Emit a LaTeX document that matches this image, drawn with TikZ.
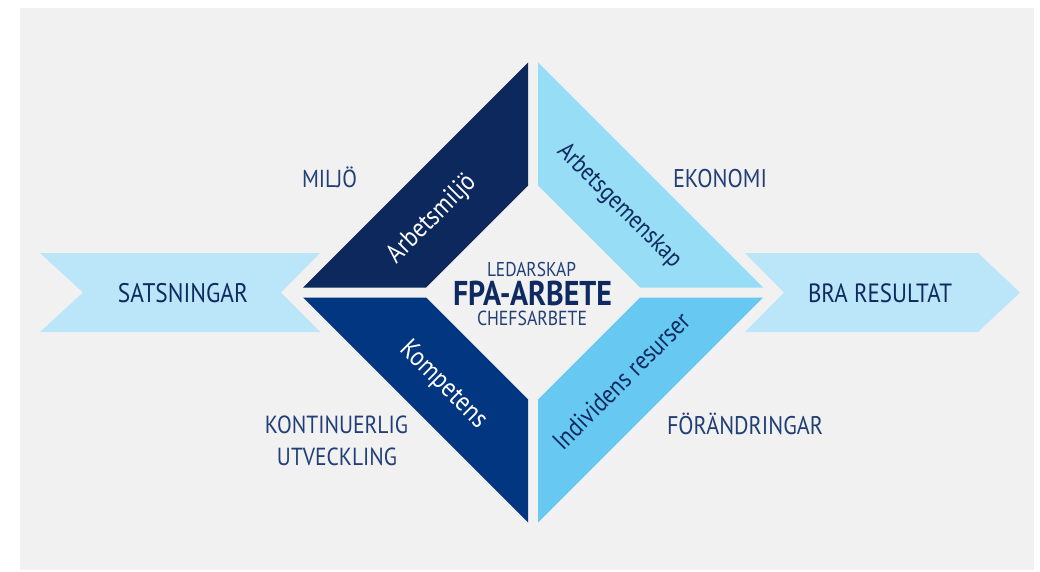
\documentclass[tikz,border=0pt]{standalone}
\usepackage{fontspec}
\setmainfont{PT Sans}
\usepackage{graphicx}

\definecolor{bggrey}{RGB}{241,241,241}
\definecolor{arrowblue}{RGB}{187,229,248}
\definecolor{navyA}{RGB}{12,40,92}
\definecolor{navyB}{RGB}{3,54,128}
\definecolor{skyA}{RGB}{152,221,246}
\definecolor{skyB}{RGB}{103,201,242}
\definecolor{textnavy}{RGB}{34,62,118}
\definecolor{headnavy}{RGB}{14,42,96}

% scale a piece of text to a given width (in pt), then set it a little taller
\newcommand\fitw[2]{\scalebox{1}[1.15]{\resizebox{#1pt}{!}{#2}}}

\begin{document}
\begin{tikzpicture}[x=1pt,y=-1pt,
  lbl/.style={inner sep=0pt, anchor=base, text=textnavy},
  band/.style={inner sep=0pt, anchor=center}]
\useasboundingbox (0,0) rectangle (1040,572);
\fill[white] (0,0) rectangle (1040,572);
\fill[bggrey] (20,8) rectangle (1034,570);

% incoming and outgoing ribbons
\fill[arrowblue] (40,253) -- (320,253) -- (281,292.5) -- (320,332) -- (40,332) -- (83,292.5) -- cycle;
\fill[arrowblue] (745,253) -- (978,253) -- (1020,292.5) -- (978,332) -- (745,332) -- (784,292.5) -- cycle;

% the four quadrant bands of the diamond (outer 235, inner 112, gap 10)
\begin{scope}[shift={(533,292.5)}]
  \fill[navyA] (-5,-230) -- (-230,-5) -- (-107,-5) -- (-5,-107) -- cycle;
  \fill[skyA]  (5,-230) -- (230,-5) -- (107,-5) -- (5,-107) -- cycle;
  \fill[navyB] (-5,230) -- (-230,5) -- (-107,5) -- (-5,107) -- cycle;
  \fill[skyB]  (5,230) -- (230,5) -- (107,5) -- (5,107) -- cycle;
\end{scope}

% band labels
\node[band, rotate=45,  text=white]    (arbm) at (432,219) {\fitw{114}{Arbetsmiljö}};
\node[band, rotate=-45, text=headnavy] (arbg) at (619,206) {\fitw{165}{Arbetsgemenskap}};
\node[band, rotate=-45, text=white]    (komp) at (443,385) {\fitw{112}{Kompetens}};
\node[band, rotate=45,  text=headnavy] (indr) at (621,381) {\fitw{182}{Individens resurser}};

% centre
\node[lbl] (led) at (531.5,276) {\fitw{89}{LEDARSKAP}};
\node[lbl, text=headnavy] (fpa) at (532.5,305) {\fitw{159}{\bfseries FPA-ARBETE}};
\node[lbl] (chef) at (532,325) {\fitw{110}{CHEFSARBETE}};

% ribbon texts
\node[lbl, text=headnavy] (sats) at (183,302) {\fitw{130}{SATSNINGAR}};
\node[lbl, text=headnavy] (bra)  at (880,302) {\fitw{144}{BRA RESULTAT}};

% corner labels
\node[lbl] (milj) at (329.5,187) {\fitw{55}{MILJÖ}};
\node[lbl] (ekon) at (720,187) {\fitw{94}{EKONOMI}};
\node[lbl] (kont) at (336.5,433) {\fitw{143}{KONTINUERLIG}};
\node[lbl] (utve) at (337,465) {\fitw{120}{UTVECKLING}};
\node[lbl] (fora) at (745,434) {\fitw{156}{FÖRÄNDRINGAR}};
\end{tikzpicture}
\end{document}
